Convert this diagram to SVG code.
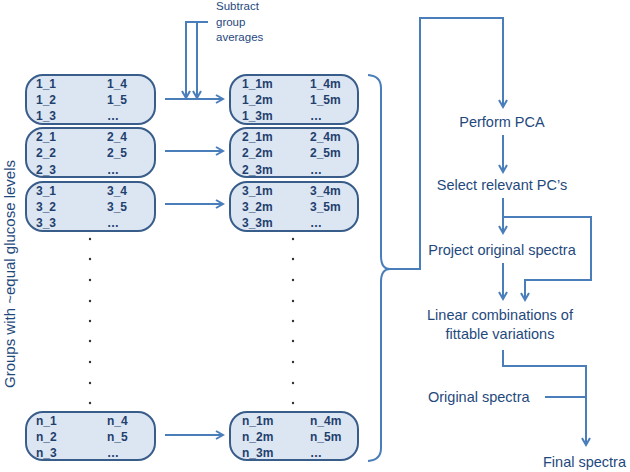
<svg xmlns="http://www.w3.org/2000/svg" width="630" height="472" viewBox="0 0 630 472">
<defs>
<marker id="ah" markerWidth="10" markerHeight="10" refX="8" refY="5" orient="auto" markerUnits="userSpaceOnUse">
<path d="M1,1 L8,5 L1,9" fill="none" stroke="#4a7ebb" stroke-width="2"/>
</marker>
<style>
.box{fill:#dce6f2;stroke:#385d8a;stroke-width:2}
.bl{font-family:"Liberation Sans",Arial,sans-serif;font-size:12px;font-weight:bold;fill:#1f3f6e}
.ft{font-family:"Liberation Sans",Arial,sans-serif;font-size:14.5px;fill:#1f497d}
.st{font-family:"Liberation Sans",Arial,sans-serif;font-size:11.5px;fill:#1f497d}
.ln{fill:none;stroke:#4a7ebb;stroke-width:2}
.dot{fill:#333}
</style>
</defs>
<rect width="630" height="472" fill="#fff"/>

<text class="ft" transform="translate(15,274) rotate(-90)" text-anchor="middle" style="font-size:15px">Groups with ~equal glucose levels</text>

<g id="g1">
<rect class="box" x="26" y="75" width="129" height="49" rx="17"/>
<text class="bl" x="36" y="87.5">1_1</text><text class="bl" x="107" y="87.5">1_4</text>
<text class="bl" x="36" y="103.5">1_2</text><text class="bl" x="107" y="103.5">1_5</text>
<text class="bl" x="36" y="120">1_3</text><text class="bl" x="107" y="120">…</text>
</g>
<g id="g2">
<rect class="box" x="26" y="128" width="129" height="49" rx="17"/>
<text class="bl" x="36" y="141">2_1</text><text class="bl" x="107" y="141">2_4</text>
<text class="bl" x="36" y="157">2_2</text><text class="bl" x="107" y="157">2_5</text>
<text class="bl" x="36" y="173.5">2_3</text><text class="bl" x="107" y="173.5">…</text>
</g>
<g id="g3">
<rect class="box" x="26" y="182" width="129" height="49" rx="17"/>
<text class="bl" x="36" y="194.5">3_1</text><text class="bl" x="107" y="194.5">3_4</text>
<text class="bl" x="36" y="210.5">3_2</text><text class="bl" x="107" y="210.5">3_5</text>
<text class="bl" x="36" y="227">3_3</text><text class="bl" x="107" y="227">…</text>
</g>
<g id="gn">
<rect class="box" x="26" y="412" width="129" height="48" rx="17"/>
<text class="bl" x="36" y="424.5">n_1</text><text class="bl" x="107" y="424.5">n_4</text>
<text class="bl" x="36" y="440.5">n_2</text><text class="bl" x="107" y="440.5">n_5</text>
<text class="bl" x="36" y="456.5">n_3</text><text class="bl" x="107" y="456.5">…</text>
</g>

<g id="m1">
<rect class="box" x="230" y="75" width="128" height="49" rx="17"/>
<text class="bl" x="242" y="87.5">1_1m</text><text class="bl" x="310" y="87.5">1_4m</text>
<text class="bl" x="242" y="103.5">1_2m</text><text class="bl" x="310" y="103.5">1_5m</text>
<text class="bl" x="242" y="120">1_3m</text><text class="bl" x="310" y="120">…</text>
</g>
<g id="m2">
<rect class="box" x="230" y="128" width="128" height="49" rx="17"/>
<text class="bl" x="242" y="141">2_1m</text><text class="bl" x="310" y="141">2_4m</text>
<text class="bl" x="242" y="157">2_2m</text><text class="bl" x="310" y="157">2_5m</text>
<text class="bl" x="242" y="173.5">2_3m</text><text class="bl" x="310" y="173.5">…</text>
</g>
<g id="m3">
<rect class="box" x="230" y="182" width="128" height="49" rx="17"/>
<text class="bl" x="242" y="194.5">3_1m</text><text class="bl" x="310" y="194.5">3_4m</text>
<text class="bl" x="242" y="210.5">3_2m</text><text class="bl" x="310" y="210.5">3_5m</text>
<text class="bl" x="242" y="227">3_3m</text><text class="bl" x="310" y="227">…</text>
</g>
<g id="mn">
<rect class="box" x="230" y="412" width="128" height="48" rx="17"/>
<text class="bl" x="242" y="424.5">n_1m</text><text class="bl" x="310" y="424.5">n_4m</text>
<text class="bl" x="242" y="440.5">n_2m</text><text class="bl" x="310" y="440.5">n_5m</text>
<text class="bl" x="242" y="456.5">n_3m</text><text class="bl" x="310" y="456.5">…</text>
</g>

<g id="dots">
<circle class="dot" cx="90" cy="239" r="1.2"/><circle class="dot" cx="90" cy="259" r="1.2"/><circle class="dot" cx="90" cy="280" r="1.2"/><circle class="dot" cx="90" cy="301" r="1.2"/><circle class="dot" cx="90" cy="321" r="1.2"/><circle class="dot" cx="90" cy="341" r="1.2"/><circle class="dot" cx="90" cy="362" r="1.2"/><circle class="dot" cx="90" cy="383" r="1.2"/><circle class="dot" cx="90" cy="403" r="1.2"/>
<circle class="dot" cx="293" cy="239" r="1.2"/><circle class="dot" cx="293" cy="259" r="1.2"/><circle class="dot" cx="293" cy="280" r="1.2"/><circle class="dot" cx="293" cy="301" r="1.2"/><circle class="dot" cx="293" cy="321" r="1.2"/><circle class="dot" cx="293" cy="341" r="1.2"/><circle class="dot" cx="293" cy="362" r="1.2"/><circle class="dot" cx="293" cy="383" r="1.2"/><circle class="dot" cx="293" cy="403" r="1.2"/>
</g>

<g id="subtract">
<text class="st" x="216" y="10">Subtract</text>
<text class="st" x="216" y="26">group</text>
<text class="st" x="216" y="41">averages</text>
</g>

<g id="steps">
<text class="ft" x="502" y="127" text-anchor="middle">Perform PCA</text>
<text class="ft" x="502" y="190" text-anchor="middle">Select relevant PC’s</text>
<text class="ft" x="502" y="255" text-anchor="middle">Project original spectra</text>
<text class="ft" x="500" y="320" text-anchor="middle">Linear combinations of</text>
<text class="ft" x="500" y="339" text-anchor="middle">fittable variations</text>
<text class="ft" x="428" y="402">Original spectra</text>
<text class="ft" x="543" y="467">Final spectra</text>
</g>

<g id="connectors">
<path class="ln" d="M165,99 H223" marker-end="url(#ah)"/>
<path class="ln" d="M165,151 H223" marker-end="url(#ah)"/>
<path class="ln" d="M165,204 H223" marker-end="url(#ah)"/>
<path class="ln" d="M165,435 H223" marker-end="url(#ah)"/>
<path class="ln" d="M208,22 H186 V98" marker-end="url(#ah)"/>
<path class="ln" d="M197,22 V98" marker-end="url(#ah)"/>
<path class="ln" d="M368,75 Q381,76 381,88 V256 Q381,269 390,269 Q381,269 381,282 V448 Q381,460 368,461"/>
<path class="ln" d="M390,269 H420 V18 H503 V107" marker-end="url(#ah)"/>
<path class="ln" d="M503,135 V172" marker-end="url(#ah)"/>
<path class="ln" d="M503,198 V233" marker-end="url(#ah)"/>
<path class="ln" d="M503,217 H591 V280 H525 V300" marker-end="url(#ah)"/>
<path class="ln" d="M503,263 V299" marker-end="url(#ah)"/>
<path class="ln" d="M503,350 V366 H586 V445" marker-end="url(#ah)"/>
<path class="ln" d="M545,397 H586"/>
</g>
</svg>
